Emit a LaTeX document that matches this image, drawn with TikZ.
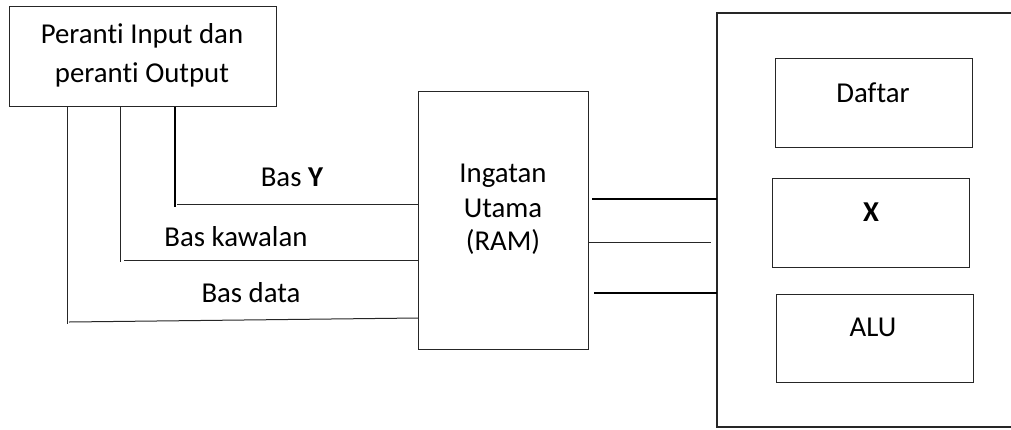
\documentclass[tikz,border=0pt]{standalone}
\usepackage{fontspec}
\setmainfont{Carlito}[Ligatures=NoCommon]
\usetikzlibrary{calc}
\begin{document}
\begin{tikzpicture}[x=1pt,y=-1pt,
  box/.style={draw=black!85,line width=1.1pt,rectangle,inner sep=0pt,anchor=north west},
  txt/.style={font=\fontsize{28.8}{34}\selectfont,inner sep=0pt,anchor=base},
  thinline/.style={line width=1pt,draw=black!85},
  thickline/.style={line width=2pt,draw=black}]
\useasboundingbox (0,0) rectangle (1011,429);

% boxes
\node[box,minimum width=267pt,minimum height=100pt] (io) at (9,6) {};
\node[box,minimum width=170pt,minimum height=258pt] (ram) at (418,91) {};
\node[box,minimum width=197pt,minimum height=89pt] (daftar) at (775,58) {};
\node[box,minimum width=197pt,minimum height=89pt] (xbox) at (772,178) {};
\node[box,minimum width=197pt,minimum height=88pt] (alu) at (776,294) {};

% processor frame, open to the right
\coordinate (cpuTL) at (717,13);
\coordinate (cpuBL) at (717,427);
\draw[line width=1.1pt,draw=black!85] (1011,13) -- (cpuTL) -- (cpuBL) -- (1011,427);

% texts
\node[txt] (io1) at (142,43) {Peranti Input dan};
\node[txt] (io2) at (142,82) {peranti Output};
\node[txt] (ram1) at (503,182) {Ingatan};
\node[txt] (ram2) at (503,217) {Utama};
\node[txt] (ram3) at (503,250) {(RAM)};
\node[txt] (tdaftar) at (873,102) {Daftar};
\node[txt] (tx) at (871,221) {\textbf{X}};
\node[txt] (talu) at (873,336) {ALU};
\node[txt] (lby) at (292,186) {Bas \textbf{Y}};
\node[txt] (lbk) at (236,246) {Bas kawalan};
\node[txt] (lbd) at (251,302) {Bas data};

% buses between the devices and main memory
\coordinate (by) at (175,207);
\coordinate (bk) at (120,262);
\coordinate (bd) at (67,324);
\draw[line width=1.8pt] (io.south -| by) -- (by);
\draw[thinline] (177,204) -- (ram.west |- 0,204);
\draw[thinline] (io.south -| bk) -- (bk);
\draw[thinline] (124,260) -- (ram.west |- 0,260);
\draw[thinline] (io.south -| bd) -- (bd);
\draw[thinline] (69,322) -- (ram.west |- 0,318);

% buses between main memory and the processor
\draw[thickline] ($(ram.east |- 0,199)+(3,0)$) -- (cpuTL |- 0,199);
\draw[thinline] (ram.east |- 0,242) -- ($(cpuTL |- 0,242)+(-6,0)$);
\draw[thickline] ($(ram.east |- 0,293)+(5,0)$) -- (cpuTL |- 0,293);
\end{tikzpicture}
\end{document}
